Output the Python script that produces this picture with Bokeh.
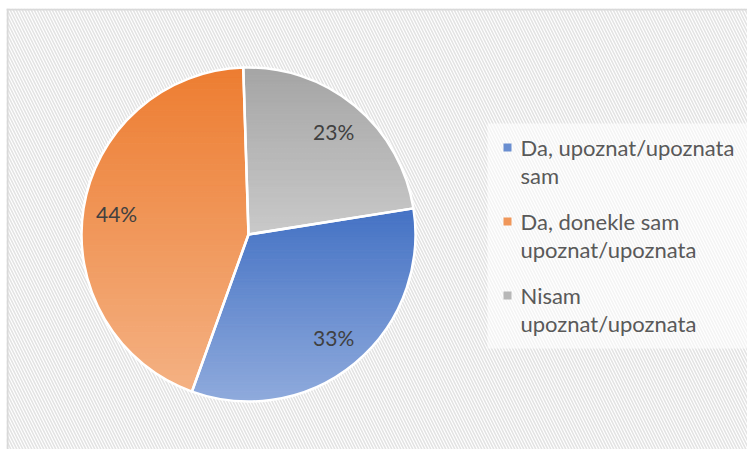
import textwrap
import numpy as np
from bokeh.plotting import figure
from bokeh.models import Range1d
from bokeh.core.properties import value
from bokeh.embed import file_html
from bokeh.resources import INLINE

# ---- data ----
categories = ["Da, upoznat/upoznata sam",
              "Da, donekle sam upoznat/upoznata",
              "Nisam upoznat/upoznata"]
shares = [33, 44, 23]
labels = ["33%", "44%", "23%"]
top_colors = ["#4472C4", "#ED7D31", "#A5A5A5"]
bottom_colors = ["#8FAADC", "#F4B183", "#C9C9C9"]
first_slice_angle = 9.0  # degrees, counter-clockwise from east

# ---- layout (pixel-like data units) ----
W, H = 747, 449
BL, BT = 6, 8
FW, FH = W - BL, H - BT
cx, cy, R = 242, 215, 167

p = figure(width=W, height=H, output_backend="svg", toolbar_location=None,
           x_range=Range1d(0, FW), y_range=Range1d(0, FH),
           min_border_left=BL, min_border_top=BT, min_border_right=0, min_border_bottom=0)
p.border_fill_color = "white"
p.background_fill_color = "white"
p.outline_line_color = None
p.axis.visible = False
p.grid.visible = False

# hatched chart area
p.quad(left=[0], right=[FW], bottom=[0], top=[FH], fill_color="white", line_color=None,
       hatch_pattern="\\", hatch_color="#E3E3E3", hatch_scale=6, hatch_weight=1.6)
# chart border (left and top visible)
p.quad(left=[0, 0], right=[2, FW], bottom=[0, FH - 2], top=[FH, FH],
       fill_color="#D9D9D9", line_color=None)


def hex2rgb(h):
    return np.array([int(h[i:i + 2], 16) for i in (1, 3, 5)], dtype=float)


def rgb2hex(c):
    return "#%02x%02x%02x" % tuple(int(round(v)) for v in c)


def clip(poly, yv, keep_above):
    out = []
    n = len(poly)
    for i in range(n):
        a, b = poly[i], poly[(i + 1) % n]
        ina = a[1] >= yv if keep_above else a[1] <= yv
        inb = b[1] >= yv if keep_above else b[1] <= yv
        if ina:
            out.append(a)
        if ina != inb:
            t = (yv - a[1]) / (b[1] - a[1])
            out.append((a[0] + t * (b[0] - a[0]), yv))
    return out


fr = np.array(shares, dtype=float) / sum(shares)
ang = np.cumsum(np.concatenate([[0], fr])) * 2 * np.pi
starts = np.deg2rad(first_slice_angle) - ang[:-1]
ends = np.deg2rad(first_slice_angle) - ang[1:]

xs, ys, cols = [], [], []
N = 60
for s, e, ct, cb in zip(starts, ends, top_colors, bottom_colors):
    th = np.linspace(s, e, 160)
    poly = [(cx, cy)] + [(cx + R * np.cos(t), cy + R * np.sin(t)) for t in th]
    ymax = max(pt[1] for pt in poly)
    ymin = min(pt[1] for pt in poly)
    c1, c2 = hex2rgb(ct), hex2rgb(cb)
    edges = np.linspace(ymax, ymin, N + 1)
    for k in range(N):
        band = clip(poly, edges[k], False)
        band = clip(band, edges[k + 1], True)
        if len(band) < 3:
            continue
        tt = (k + 0.5) / N
        xs.append([pt[0] for pt in band])
        ys.append([pt[1] for pt in band])
        cols.append(rgb2hex(c1 + (c2 - c1) * tt))

p.patches(xs, ys, fill_color=cols, line_color=cols, line_width=1)
p.wedge(x=cx, y=cy, radius=R, start_angle=list(starts), end_angle=list(ends),
        direction="clock", fill_alpha=0, line_color="white", line_width=2.5)

mids = (starts + ends) / 2
p.text(x=list(cx + 0.8 * R * np.cos(mids)), y=list(cy + 0.8 * R * np.sin(mids)), text=labels,
       text_font=value("Lato"), text_font_size="21px", text_color="#404040",
       text_align="center", text_baseline="middle")

# legend box
p.quad(left=[481], right=[FW], bottom=[101], top=[326], fill_color="white", fill_alpha=0.6,
       line_color=None)

ly0, entry_gap, line_gap = 302, 74, 28
mx, tx = 501, 514
mk_cols = [rgb2hex((hex2rgb(a) + hex2rgb(b)) / 2) for a, b in zip(top_colors, bottom_colors)]
p.scatter(x=[mx] * 3, y=[ly0 - i * entry_gap for i in range(3)], marker="square", size=8,
          fill_color=mk_cols, line_color=None)
lx, lyy, lt = [], [], []
for i, c in enumerate(categories):
    for j, line in enumerate(textwrap.wrap(c, 20)):
        lx.append(tx)
        lyy.append(ly0 - i * entry_gap - j * line_gap)
        lt.append(line)
p.text(x=lx, y=lyy, text=lt, text_font=value("Lato"), text_font_size="22px",
       text_color="#595959", text_align="left", text_baseline="middle")

open("out.html", "w").write(file_html(p, INLINE))
